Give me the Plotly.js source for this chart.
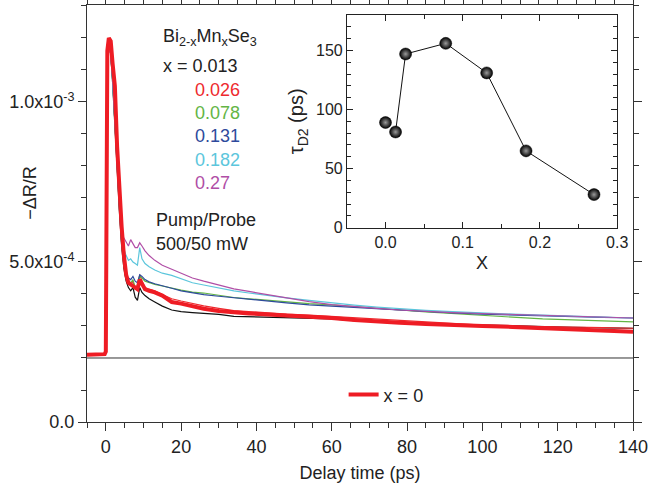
<!DOCTYPE html>
<html>
<head>
<meta charset="utf-8">
<script src="https://cdn.plot.ly/plotly-3.0.1.min.js"></script>
<style>html,body{margin:0;padding:0;background:#fff;}#chart{width:649px;height:485px;}</style>
</head>
<body>
<div id="chart"></div>
<script>
// ---- Main panel data: -ΔR/R in units of 1e-4 vs delay time (ps) ----
const SCALE = 1e-4;
const BASELINE = 2.0e-4;
const delayTime = [-5, -3, -1, -0.3, 0, 0.4, 0.8, 1.3, 1.8, 2.4, 3.0, 3.6, 4.2, 4.8, 5.4, 6.0, 6.6, 7.2, 7.8, 8.4, 9.0, 9.6, 10.4, 11.5, 13, 15, 17.5, 20, 23, 26, 30, 34, 38, 43, 48, 54, 60, 66, 72, 78, 85, 92, 100, 108, 116, 124, 132, 140];

const x0013 = [2.08, 2.1, 2.09, 2.1, 2.2, 11.2, 11.8, 11.5, 10.6, 9.2, 7.8, 6.6, 5.5, 4.8, 4.4, 4.2, 4.1, 4.2, 3.9, 3.8, 4.2, 4.05, 3.95, 3.85, 3.75, 3.62, 3.5, 3.45, 3.42, 3.4, 3.36, 3.3, 3.29, 3.27, 3.26, 3.24, 3.22, 3.17, 3.13, 3.1, 3.07, 3.04, 3.03, 3.0, 2.98, 2.96, 2.94, 2.93];
const x0026 = [2.1, 2.09, 2.1, 2.1, 2.2, 11.3, 11.8, 11.6, 10.8, 9.4, 8.0, 6.8, 5.6, 4.9, 4.5, 4.35, 4.3, 4.4, 4.15, 4.2, 4.6, 4.4, 4.2, 4.15, 4.1, 3.98, 3.85, 3.78, 3.7, 3.63, 3.55, 3.48, 3.45, 3.4, 3.37, 3.34, 3.3, 3.25, 3.2, 3.17, 3.12, 3.07, 3.03, 3.0, 2.99, 2.97, 2.95, 2.93];
const x0078 = [2.09, 2.1, 2.1, 2.11, 2.2, 11.3, 11.8, 11.5, 10.7, 9.3, 7.9, 6.7, 5.6, 4.9, 4.55, 4.4, 4.35, 4.45, 4.2, 4.25, 4.55, 4.5, 4.4, 4.35, 4.3, 4.25, 4.18, 4.12, 4.06, 4.03, 3.96, 3.89, 3.85, 3.8, 3.75, 3.7, 3.66, 3.6, 3.55, 3.5, 3.44, 3.39, 3.33, 3.27, 3.22, 3.19, 3.16, 3.13];
const x0131 = [2.1, 2.12, 2.08, 2.1, 2.2, 11.3, 11.8, 11.5, 10.7, 9.3, 7.9, 6.7, 5.6, 4.95, 4.6, 4.5, 4.45, 4.55, 4.4, 4.35, 4.6, 4.55, 4.45, 4.38, 4.32, 4.25, 4.18, 4.1, 4.03, 3.98, 3.93, 3.88, 3.83, 3.77, 3.72, 3.66, 3.62, 3.57, 3.52, 3.49, 3.45, 3.41, 3.37, 3.34, 3.31, 3.29, 3.27, 3.25];
const x0182 = [2.1, 2.1, 2.1, 2.1, 2.2, 11.3, 11.8, 11.5, 10.7, 9.4, 8.0, 6.9, 5.9, 5.4, 5.2, 5.05, 5.1, 5.0, 4.95, 4.9, 5.45, 5.1, 4.95, 4.85, 4.75, 4.65, 4.58, 4.48, 4.35, 4.28, 4.18, 4.1, 4.03, 3.95, 3.88, 3.8, 3.72, 3.65, 3.59, 3.54, 3.49, 3.45, 3.4, 3.37, 3.34, 3.31, 3.28, 3.25];
const x0270 = [2.1, 2.1, 2.1, 2.1, 2.2, 11.3, 11.8, 11.5, 10.8, 9.5, 8.2, 7.0, 5.9, 5.75, 5.6, 5.5, 5.7, 5.55, 5.45, 5.45, 5.6, 5.5, 5.35, 5.2, 5.05, 4.9, 4.77, 4.65, 4.5, 4.4, 4.27, 4.16, 4.08, 3.98, 3.88, 3.76, 3.67, 3.6, 3.55, 3.5, 3.45, 3.42, 3.39, 3.36, 3.33, 3.3, 3.28, 3.25];
const x0000 = [2.1, 2.1, 2.1, 2.12, 2.2, 11.6, 12.0, 11.9, 11.2, 10.5, 8.6, 7.2, 6.1, 5.2, 4.6, 4.35, 4.3, 4.25, 4.2, 4.15, 4.45, 4.3, 4.15, 4.1, 4.05, 3.95, 3.75, 3.7, 3.62, 3.54, 3.47, 3.42, 3.39, 3.36, 3.33, 3.29, 3.25, 3.19, 3.13, 3.1, 3.06, 3.02, 3.0, 2.97, 2.94, 2.91, 2.87, 2.82];

const seriesNames = ['x = 0.013', '0.026', '0.078', '0.131', '0.182', '0.27'];
const seriesData = [x0013, x0026, x0078, x0131, x0182, x0270];
const seriesColors = ['#111111', '#ee2a2e', '#63b545', '#2e4a9c', '#5cc6dc', '#b04ea6'];

// ---- Inset data: tau_D2 vs Mn content x ----
const insetX = [0, 0.013, 0.026, 0.078, 0.131, 0.182, 0.27];
const insetTau = [89, 81, 147, 156, 131, 65, 28];

// ---- Tick labels ----
const yTickVals = [0, 5e-4, 1e-3];
const yTickText = ['0.0', '5.0x10<sup>-4</sup>', '1.0x10<sup>-3</sup>'];

const FONT = 'Liberation Sans, Arial, sans-serif';
const traces = [];
seriesData.forEach((arr, i) => {
  traces.push({
    x: delayTime, y: arr.map(v => v * SCALE), type: 'scatter', mode: 'lines',
    line: {color: seriesColors[i], width: 1.2}, showlegend: false, hoverinfo: 'skip',
    xaxis: 'x', yaxis: 'y'
  });
});
traces.push({
  x: delayTime, y: x0000.map(v => v * SCALE), type: 'scatter', mode: 'lines',
  name: 'x = 0', line: {color: '#ee1c24', width: 4}, showlegend: true,
  xaxis: 'x', yaxis: 'y'
});
traces.push({
  x: insetX.slice(1), y: insetTau.slice(1), type: 'scatter', mode: 'lines',
  line: {color: '#111', width: 1}, showlegend: false, xaxis: 'x2', yaxis: 'y2'
});
traces.push({
  x: insetX, y: insetTau, type: 'scatter', mode: 'markers',
  marker: {size: 12, color: '#000', gradient: {type: 'radial', color: '#9a9a9a'}, line: {width: 0.5, color: '#000'}},
  showlegend: false, xaxis: 'x2', yaxis: 'y2'
});

const annY = [0.854, 0.797, 0.741, 0.685, 0.629, 0.573];
const annotations = [
  {text: 'Bi<sub>2-x</sub>Mn<sub>x</sub>Se<sub>3</sub>', x: 0.1355, y: 0.923, xref: 'paper', yref: 'paper', xanchor: 'left', yanchor: 'middle', showarrow: false, font: {size: 18, color: '#222', family: FONT}},
  {text: 'Pump/Probe', x: 0.122, y: 0.484, xref: 'paper', yref: 'paper', xanchor: 'left', yanchor: 'middle', showarrow: false, font: {size: 18, color: '#222', family: FONT}},
  {text: '500/50 mW', x: 0.122, y: 0.427, xref: 'paper', yref: 'paper', xanchor: 'left', yanchor: 'middle', showarrow: false, font: {size: 18, color: '#222', family: FONT}},
  {text: '\u2212\u0394R/R', x: -0.105, y: 0.549, xref: 'paper', yref: 'paper', xanchor: 'center', yanchor: 'middle', textangle: -90, showarrow: false, font: {size: 18, color: '#222', family: FONT}}
];
seriesNames.forEach((n, i) => {
  annotations.push({text: n, x: i === 0 ? 0.1355 : 0.194, y: annY[i], xref: 'paper', yref: 'paper', xanchor: 'left', yanchor: 'middle', showarrow: false,
    font: {size: 18, color: i === 0 ? '#222' : seriesColors[i], family: FONT}});
});

const layout = {
  width: 649, height: 485,
  margin: {l: 87, r: 16, t: 5, b: 63},
  paper_bgcolor: '#fff', plot_bgcolor: 'rgba(0,0,0,0)',
  font: {family: FONT, size: 18, color: '#222'},
  xaxis: {
    domain: [0, 1], range: [-5, 140], tick0: 0, dtick: 20, ticks: 'outside', ticklen: 8, tickwidth: 1,
    tickcolor: '#333', showline: true, linecolor: '#333', linewidth: 1, mirror: 'allticks', showgrid: false, zeroline: false,
    minor: {dtick: 5, tick0: 0, ticks: 'outside', ticklen: 5, tickcolor: '#333', showgrid: false},
    title: {text: 'Delay time (ps)', font: {size: 18}, standoff: 10}, tickfont: {size: 18}
  },
  yaxis: {
    domain: [0, 1], range: [0, 1.303e-3], tickmode: 'array', tickvals: yTickVals, ticktext: yTickText,
    ticks: 'outside', ticklen: 8, tickcolor: '#333', showline: true, linecolor: '#333', linewidth: 1, mirror: 'allticks',
    showgrid: false, zeroline: false,
    minor: {tickmode: 'linear', dtick: 1e-4, tick0: 0, ticks: 'outside', ticklen: 5, tickcolor: '#333', showgrid: false},
    tickfont: {size: 18}
  },
  xaxis2: {
    domain: [0.476, 0.971], anchor: 'y2', range: [-0.05, 0.3], tick0: 0, dtick: 0.1, tickformat: '.1f',
    ticks: 'inside', ticklen: 6, tickcolor: '#222', showline: true, linecolor: '#222', linewidth: 1, mirror: 'allticks',
    showgrid: false, zeroline: false,
    minor: {dtick: 0.05, tick0: 0, ticks: 'inside', ticklen: 4, tickcolor: '#222', showgrid: false},
    title: {text: 'X', font: {size: 18}, standoff: 6}, tickfont: {size: 16}
  },
  yaxis2: {
    domain: [0.466, 0.976], anchor: 'x2', range: [0, 180], tick0: 0, dtick: 50,
    ticks: 'inside', ticklen: 6, tickcolor: '#222', showline: true, linecolor: '#222', linewidth: 1, mirror: 'allticks',
    showgrid: false, zeroline: false,
    minor: {dtick: 10, tick0: 0, ticks: 'inside', ticklen: 4, tickcolor: '#222', showgrid: false},
    title: {text: '\u03c4<sub>D2</sub> (ps)', font: {size: 20}, standoff: 6}, tickfont: {size: 16}
  },
  shapes: [{type: 'line', xref: 'paper', x0: 0, x1: 1, yref: 'y', y0: BASELINE, y1: BASELINE, line: {color: '#333', width: 1}}],
  annotations: annotations,
  showlegend: true,
  legend: {x: 0.47, y: 0.065, xanchor: 'left', yanchor: 'middle', bgcolor: 'rgba(0,0,0,0)', font: {size: 18}}
};

Plotly.newPlot('chart', traces, layout, {staticPlot: true, displayModeBar: false});
</script>
</body>
</html>
